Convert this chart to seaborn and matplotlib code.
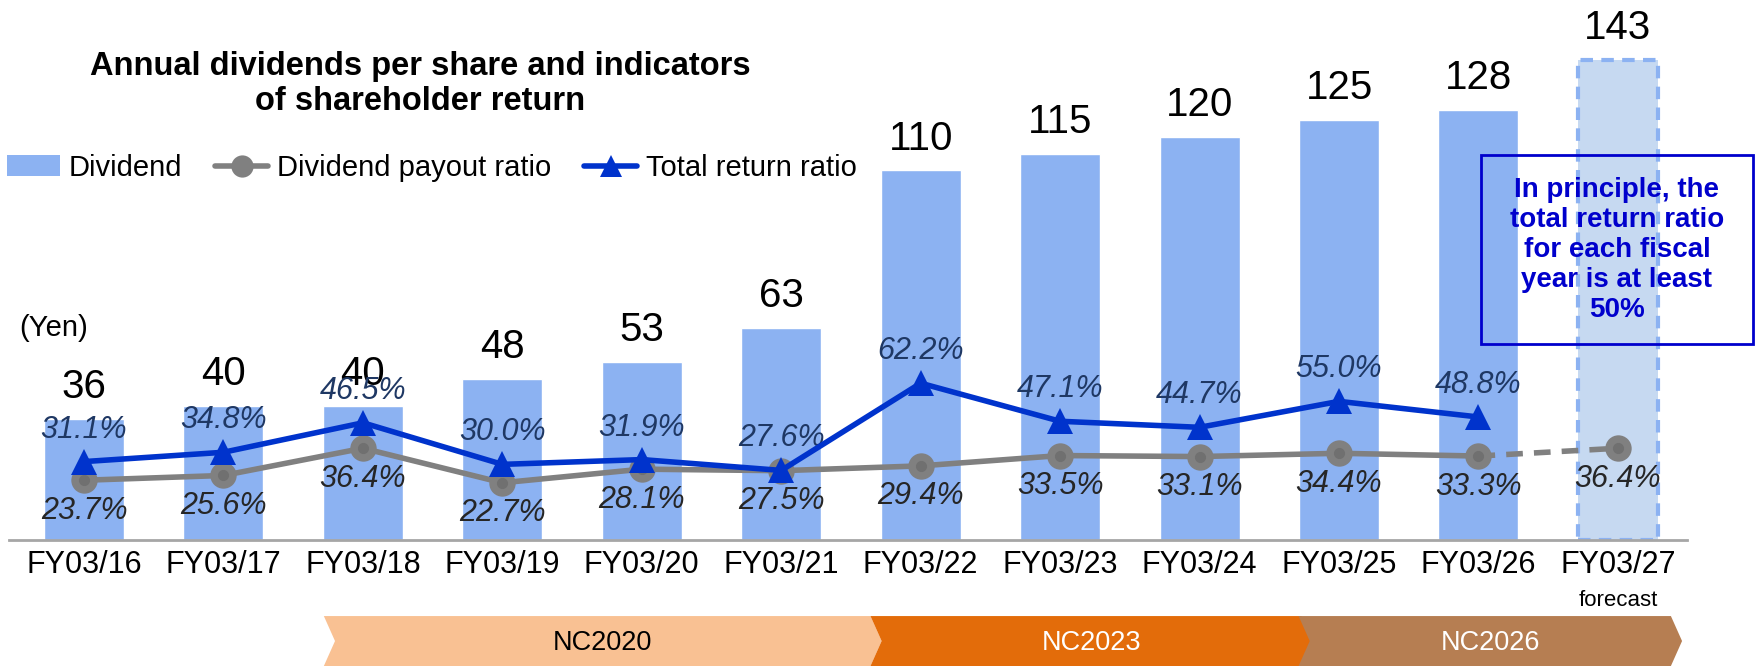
import matplotlib
matplotlib.use('Agg')
import matplotlib.pyplot as plt
import matplotlib.transforms as mtransforms
from matplotlib.patches import Polygon, Rectangle, Patch
from matplotlib.lines import Line2D
import seaborn as sns
import numpy as np

# data
years = ['FY03/16', 'FY03/17', 'FY03/18', 'FY03/19', 'FY03/20', 'FY03/21',
         'FY03/22', 'FY03/23', 'FY03/24', 'FY03/25', 'FY03/26', 'FY03/27']
dividend = [36, 40, 40, 48, 53, 63, 110, 115, 120, 125, 128, 143]
payout_ratio = [23.7, 25.6, 36.4, 22.7, 28.1, 27.5, 29.4, 33.5, 33.1, 34.4, 33.3, 36.4]
total_return = [31.1, 34.8, 46.5, 30.0, 31.9, 27.6, 62.2, 47.1, 44.7, 55.0, 48.8]
phases = ['NC2020', 'NC2023', 'NC2026']

# styling
bar_color = '#8cb2f2'
fc_color = '#c6d9f1'
grey = '#808080'
blue = '#0033cc'
phase_colors = ['#f9c193', '#e36c0a', '#b67e52']
phase_text = ['black', 'white', 'white']
phase_span = [(1.72, 5.72), (5.64, 8.81), (8.71, 11.46)]

sns.set_theme(style='white')
plt.rcParams['font.family'] = ['Liberation Sans', 'DejaVu Sans']
plt.rcParams['text.color'] = 'black'

fig = plt.figure(figsize=(17.62, 6.66), dpi=100)
ax = fig.add_axes([0.0051, 0.1892, 0.9523, 0.7808])

# dividend bars
sns.barplot(x=years, y=dividend, color=bar_color, saturation=1, width=0.574, ax=ax)
last = ax.patches[-1]
last.set_facecolor(fc_color)
last.set_edgecolor(bar_color)
last.set_linestyle((0, (3, 2)))
last.set_linewidth(3)

for i, d in enumerate(dividend):
    ax.annotate(str(d), (i, d), xytext=(0, 23), textcoords='offset points',
                ha='center', va='center', fontsize=29, color='black')

ax.set_xlim(-0.538, 11.495)
ax.set_ylim(0, 154.8)
ax.set_yticks([])
ax.set_ylabel('')
for s in ['top', 'right', 'left']:
    ax.spines[s].set_visible(False)
ax.spines['bottom'].set_color('#a6a6a6')
ax.spines['bottom'].set_linewidth(2)
ax.tick_params(axis='x', length=0, pad=7, labelsize=22, labelcolor='black')

# ratio lines on secondary axis
ax2 = ax.twinx()
idx = np.arange(len(years))
n = len(total_return)
sns.lineplot(x=idx[:n], y=payout_ratio[:n], color=grey, linewidth=4, marker='o',
             markersize=19, markeredgewidth=0, ax=ax2, zorder=3)
ax2.plot(idx[n - 1:], payout_ratio[n - 1:], color=grey, linewidth=4,
         linestyle=(0, (3, 2)), marker='o', markersize=19, markeredgewidth=0,
         markevery=[1], zorder=3)
ax2.plot(idx, payout_ratio, linestyle='none', marker='o', markersize=7,
         color='#707070', zorder=4)
sns.lineplot(x=idx[:n], y=total_return, color=blue, linewidth=4, marker='^',
             markersize=19, markeredgewidth=0, ax=ax2, zorder=5)

for i, v in enumerate(total_return):
    ax2.annotate(f'{v:.1f}%', (i, v), xytext=(0, 23), textcoords='offset points',
                 ha='center', va='center', fontsize=22, style='italic', color='#1f3864')
for i, v in enumerate(payout_ratio):
    ax2.annotate(f'{v:.1f}%', (i, v), xytext=(0, -22), textcoords='offset points',
                 ha='center', va='center', fontsize=22, style='italic', color='#262626')

ax2.set_ylim(0, 206.3)
ax2.set_xlim(-0.538, 11.495)
ax2.set_yticks([])
ax2.set_ylabel('')
for s in ['top', 'right', 'left', 'bottom']:
    ax2.spines[s].set_visible(False)

tr = mtransforms.blended_transform_factory(ax.transData, fig.transFigure)

# 'forecast' under the last tick label
ax.text(11, 0.0976, 'forecast', transform=tr, ha='center', va='center',
        fontsize=16, color='black')

# mid-term plan chevrons
depth = 0.08
for name, (x0, x1), fc, tc in zip(phases, phase_span, phase_colors, phase_text):
    pts = [(x0, 0.075), (x1 - depth, 0.075), (x1, 0.0375), (x1 - depth, 0.0),
           (x0, 0.0), (x0 + depth, 0.0375)]
    poly = Polygon(pts, closed=True, transform=tr, facecolor=fc, edgecolor='none',
                   clip_on=False)
    ax.add_patch(poly)
    ax.text((x0 + x1) / 2, 0.034, name, transform=tr, ha='center', va='center',
            fontsize=19.5, color=tc)

# title, unit, legend
fig.text(0.2385, 0.874, 'Annual dividends per share and indicators\nof shareholder return',
         ha='center', va='center', fontsize=23.5, weight='bold', linespacing=1.15)
fig.text(0.011, 0.508, '(Yen)', ha='left', va='center', fontsize=21)

handles = [Patch(facecolor=bar_color, edgecolor='none'),
           Line2D([], [], color=grey, linewidth=4, marker='o', markersize=16, markeredgewidth=0),
           Line2D([], [], color=blue, linewidth=4, marker='^', markersize=16, markeredgewidth=0)]
fig.legend(handles, ['Dividend', 'Dividend payout ratio', 'Total return ratio'],
           loc='center left', bbox_to_anchor=(0.004, 0.748), ncol=3, frameon=False,
           fontsize=21, handlelength=1.8, handletextpad=0.3, columnspacing=1.15,
           borderpad=0, borderaxespad=0)

# policy note box
fig.patches.append(Rectangle((0.8405, 0.4835), 0.1544, 0.2838, transform=fig.transFigure,
                             fill=False, edgecolor='#0000cc', linewidth=2, figure=fig))
fig.text(0.9177, 0.6246, 'In principle, the\ntotal return ratio\nfor each fiscal\nyear is at least\n50%',
         ha='center', va='center', fontsize=20, weight='bold', color='#0000cc', linespacing=1.2)

fig.savefig('out.png', dpi=100)
